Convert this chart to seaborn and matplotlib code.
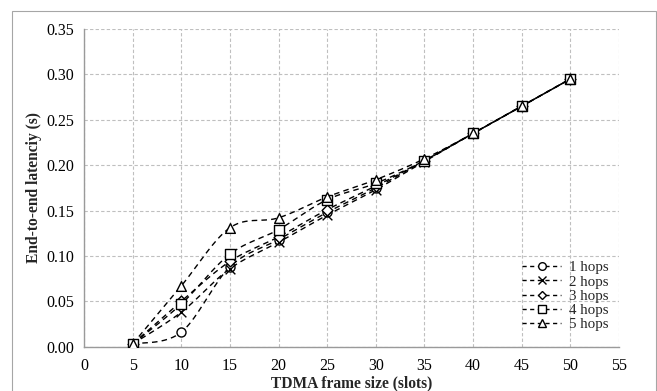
import numpy as np
import pandas as pd
import matplotlib
matplotlib.use("Agg")
import matplotlib.pyplot as plt
from matplotlib.lines import Line2D
from matplotlib.patches import Rectangle
import seaborn as sns

frame_sizes = [5, 10, 15, 20, 25, 30, 35, 40, 45, 50]
hops_1 = [0.003, 0.016, 0.088, 0.118, 0.148, 0.175, 0.205, 0.235, 0.265, 0.295]
hops_2 = [0.003, 0.038, 0.086, 0.115, 0.145, 0.173, 0.204, 0.235, 0.265, 0.295]
hops_3 = [0.003, 0.050, 0.094, 0.121, 0.151, 0.177, 0.205, 0.235, 0.265, 0.295]
hops_4 = [0.003, 0.047, 0.102, 0.129, 0.162, 0.180, 0.205, 0.235, 0.265, 0.295]
hops_5 = [0.003, 0.067, 0.131, 0.142, 0.165, 0.184, 0.207, 0.235, 0.265, 0.295]
series_names = ["1 hops", "2 hops", "3 hops", "4 hops", "5 hops"]
series_values = [hops_1, hops_2, hops_3, hops_4, hops_5]
markers = ["o", "x", "D", "s", "^"]
marker_sizes = [6.5, 7, 5.5, 6.5, 7]

sns.set_style("white")
plt.rcParams["font.family"] = ["Liberation Serif", "DejaVu Serif"]

fig = plt.figure(figsize=(6.57, 3.91), dpi=100)
ax = fig.add_axes([84 / 657, 1 - 346.7 / 391, (619 - 84) / 657, (346.7 - 29) / 391])

# chart area border
fig.patches.append(Rectangle((12 / 657, -0.05), (656 - 12) / 657, 1 - 11 / 391 + 0.05,
                             transform=fig.transFigure, fill=False,
                             edgecolor="#a6a6a6", linewidth=0.8, zorder=0))


def smooth(x, y, n=20):
    x = np.asarray(x, float)
    y = np.asarray(y, float)
    pts = np.column_stack([x, y])
    out = []
    for i in range(len(pts) - 1):
        p0 = pts[i - 1] if i > 0 else pts[i]
        p1 = pts[i]
        p2 = pts[i + 1]
        p3 = pts[i + 2] if i + 2 < len(pts) else pts[i + 1]
        c1 = p1 + (p2 - p0) / 6
        c2 = p2 - (p3 - p1) / 6
        t = np.linspace(0, 1, n)[:, None]
        seg = ((1 - t) ** 3) * p1 + 3 * ((1 - t) ** 2) * t * c1 + 3 * (1 - t) * t ** 2 * c2 + t ** 3 * p2
        out.append(seg if i == 0 else seg[1:])
    s = np.vstack(out)
    return s[:, 0], s[:, 1]


rows = []
for name, vals in zip(series_names, series_values):
    for f, v in zip(frame_sizes, vals):
        rows.append({"frame": f, "latency": v, "hops": name})
df = pd.DataFrame(rows)

handles = []
for name, m, ms in zip(series_names, markers, marker_sizes):
    sub = df[df["hops"] == name]
    sx, sy = smooth(sub["frame"], sub["latency"])
    ax.plot(sx, sy, color="black", linewidth=1.0, dashes=(4, 3), zorder=3)
    if m == "x":
        sns.scatterplot(x=sub["frame"], y=sub["latency"], ax=ax, marker="x",
                        color="black", s=(ms ** 2), linewidth=1.0, zorder=4, legend=False)
    else:
        sns.scatterplot(x=sub["frame"], y=sub["latency"], ax=ax, marker=m,
                        facecolor="white", edgecolor="black", s=(ms ** 2),
                        linewidth=1.0, zorder=4, legend=False)
    handles.append(Line2D([0], [0], color="black", linewidth=1.0, dashes=(3, 2.5),
                          marker=m, markersize=5.5 if m != "D" else 4.5,
                          markerfacecolor="white", markeredgecolor="black",
                          markeredgewidth=1.0, label=name))

ax.set_xlim(0, 55)
ax.set_ylim(0, 0.35)
ax.set_xticks(np.arange(0, 56, 5))
ax.set_yticks(np.arange(0, 0.351, 0.05))
ax.set_yticklabels([f"{v:.2f}" for v in np.arange(0, 0.351, 0.05)])
ax.grid(True, color="#bfbfbf", linestyle=(0, (3, 2)), linewidth=0.8)
ax.set_axisbelow(True)
for sp in ["top", "right"]:
    ax.spines[sp].set_visible(False)
for sp in ["left", "bottom"]:
    ax.spines[sp].set_color("#9a9a9a")
    ax.spines[sp].set_linewidth(1.0)
ax.tick_params(axis="both", direction="out", length=4, color="#9a9a9a",
               labelsize=11.5, labelcolor="black", width=0.8)
ax.tick_params(axis="y", pad=3)
ax.tick_params(axis="x", pad=4)
ax.set_xlabel("TDMA frame size (slots)", fontsize=11.2, fontweight="bold", labelpad=1)
ax.set_ylabel("End-to-end latenciy (s)", fontsize=11.2, fontweight="bold", labelpad=3)

leg = ax.legend(handles=handles, loc="lower right", bbox_to_anchor=(1.0, 0.015),
                frameon=False, fontsize=10.8, handlelength=2.6, handletextpad=0.5,
                labelspacing=0.05, borderaxespad=0.3)

fig.savefig("out.png", dpi=100)
